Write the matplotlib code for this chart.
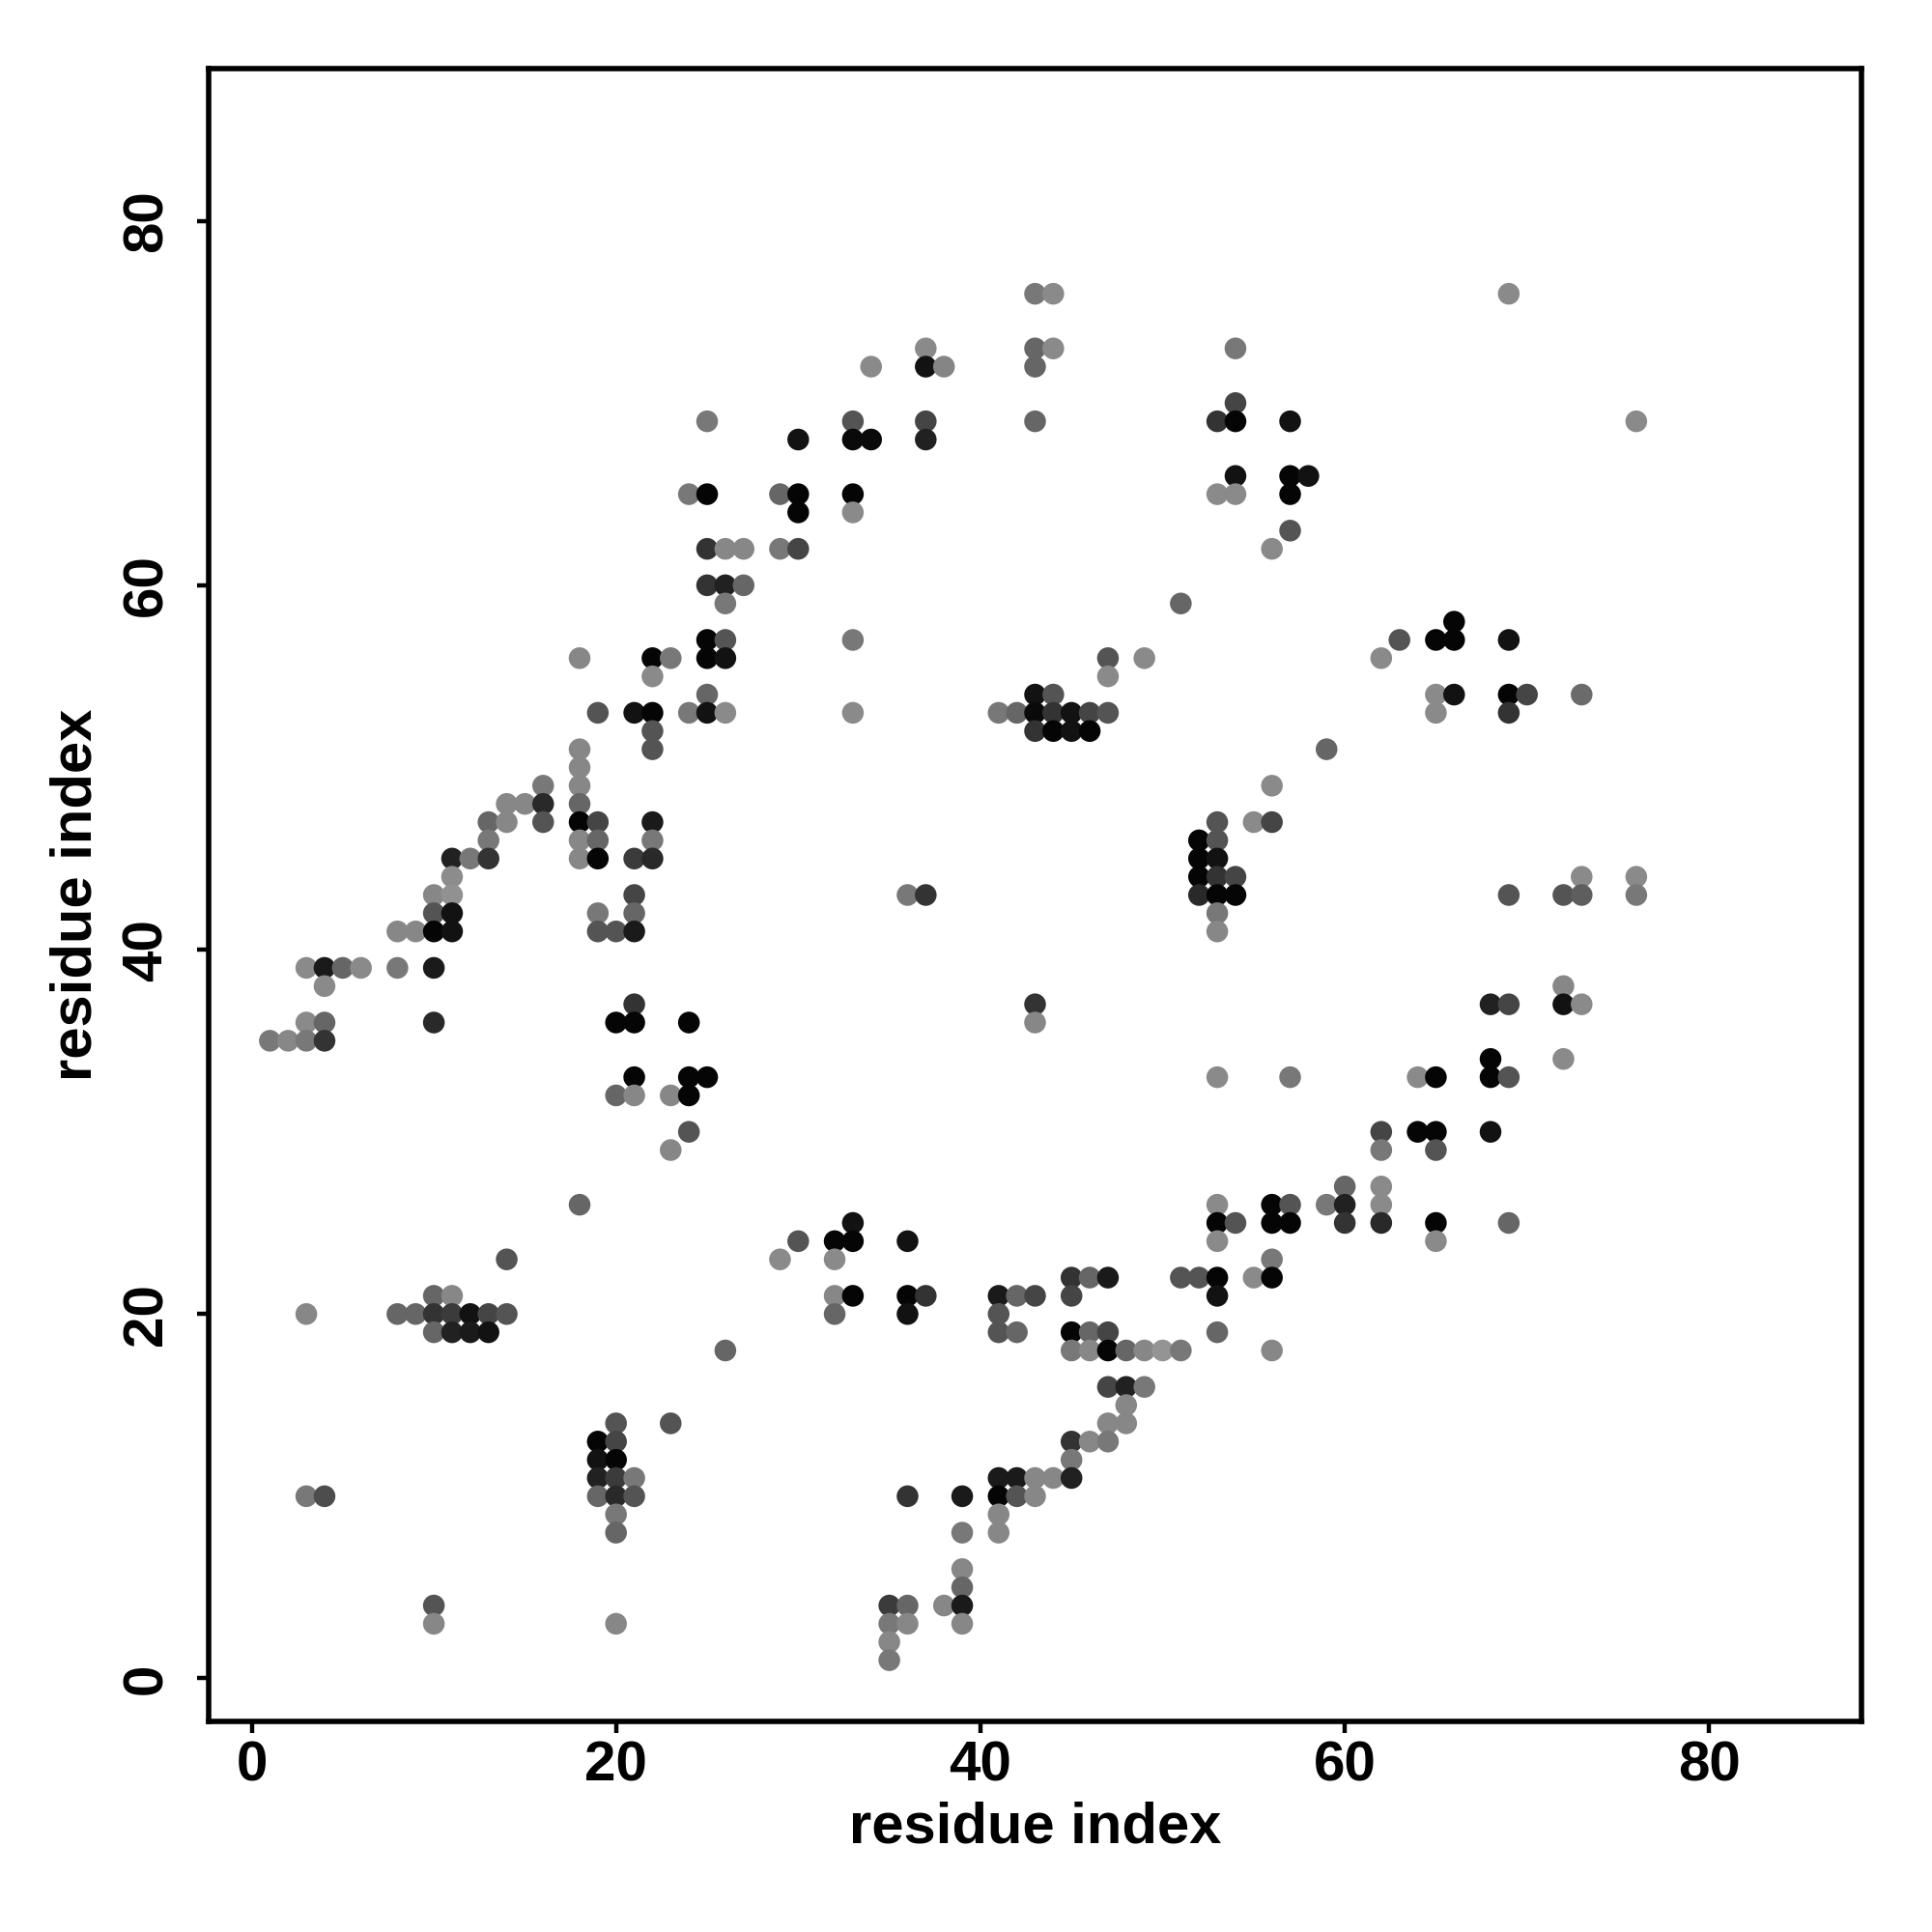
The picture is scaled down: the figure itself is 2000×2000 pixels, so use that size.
import matplotlib
matplotlib.use("Agg")
import matplotlib.pyplot as plt

plt.rcParams['font.family'] = ['Liberation Sans', 'DejaVu Sans']

# (residue i, residue j, grey shade 0=black .. 0.58=light grey)
contacts = [
    (43,76,0.47),(44,76,0.54),(69,76,0.54),
    (37,73,0.54),(43,73,0.40),(44,73,0.54),(54,73,0.47),
    (34,72,0.54),(37,72,0.07),(38,72,0.52),(43,72,0.40),
    (54,70,0.27),
    (25,69,0.47),(33,69,0.33),(37,69,0.27),(43,69,0.40),(53,69,0.20),(54,69,0.02),(57,69,0.07),(76,69,0.54),
    (30,68,0.07),(33,68,0.04),(34,68,0.04),(37,68,0.13),
    (54,66,0.07),(57,66,0.02),(58,66,0.07),
    (24,65,0.47),(25,65,0.02),(29,65,0.40),(30,65,0.02),(33,65,0.02),(53,65,0.54),(54,65,0.54),(57,65,0.02),
    (30,64,0.02),(33,64,0.54),
    (57,63,0.33),
    (25,62,0.20),(26,62,0.53),(27,62,0.53),(29,62,0.47),(30,62,0.27),(56,62,0.54),
    (25,60,0.20),(26,60,0.13),(27,60,0.40),
    (26,59,0.47),(51,59,0.40),
    (66,58,0.02),
    (25,57,0.02),(26,57,0.33),(33,57,0.47),(63,57,0.33),(65,57,0.02),(66,57,0.02),(69,57,0.07),
    (18,56,0.53),(22,56,0.02),(23,56,0.47),(25,56,0.02),(26,56,0.07),(47,56,0.33),(49,56,0.54),(62,56,0.54),
    (22,55,0.54),(47,55,0.54),
    (25,54,0.40),(43,54,0.07),(44,54,0.33),(65,54,0.54),(66,54,0.07),(69,54,0.02),(70,54,0.27),(73,54,0.42),
    (19,53,0.33),(21,53,0.07),(22,53,0.02),(24,53,0.47),(25,53,0.07),(26,53,0.54),(33,53,0.54),
    (41,53,0.47),(42,53,0.40),(43,53,0.04),(44,53,0.20),(45,53,0.07),(46,53,0.27),(47,53,0.33),
    (65,53,0.54),(69,53,0.20),
    (22,52,0.33),(43,52,0.20),(44,52,0.02),(45,52,0.07),(46,52,0.02),
    (18,51,0.53),(22,51,0.33),(59,51,0.40),
    (18,50,0.53),
    (16,49,0.47),(18,49,0.53),(56,49,0.54),
    (14,48,0.53),(15,48,0.53),(16,48,0.16),(18,48,0.40),
    (13,47,0.40),(14,47,0.53),(16,47,0.33),(18,47,0.02),(19,47,0.27),(22,47,0.10),(53,47,0.33),(55,47,0.54),(56,47,0.27),
    (13,46,0.47),(18,46,0.53),(19,46,0.40),(22,46,0.47),(52,46,0.02),(53,46,0.33),
    (11,45,0.13),(12,45,0.47),(13,45,0.20),(18,45,0.53),(19,45,0.02),(21,45,0.23),(22,45,0.16),(52,45,0.02),(53,45,0.07),
    (11,44,0.55),(52,44,0.02),(53,44,0.20),(54,44,0.27),(73,44,0.54),(76,44,0.54),
    (10,43,0.53),(11,43,0.57),(21,43,0.27),(36,43,0.47),(37,43,0.20),(52,43,0.16),(53,43,0.02),(54,43,0.02),
    (69,43,0.33),(72,43,0.33),(73,43,0.37),(76,43,0.47),
    (10,42,0.33),(11,42,0.07),(19,42,0.47),(21,42,0.40),(53,42,0.47),
    (8,41,0.53),(9,41,0.53),(10,41,0.02),(11,41,0.07),(19,41,0.33),(20,41,0.33),(21,41,0.10),(53,41,0.53),
    (3,39,0.54),(4,39,0.10),(5,39,0.40),(6,39,0.54),(8,39,0.47),(10,39,0.10),
    (4,38,0.54),(72,38,0.53),
    (21,37,0.20),(43,37,0.20),(68,37,0.13),(69,37,0.27),(72,37,0.07),(73,37,0.54),
    (3,36,0.54),(4,36,0.40),(10,36,0.16),(20,36,0.02),(21,36,0.02),(24,36,0.02),(43,36,0.53),
    (1,35,0.47),(2,35,0.53),(3,35,0.47),(4,35,0.20),
    (68,34,0.02),(72,34,0.54),
    (21,33,0.02),(24,33,0.02),(25,33,0.02),(53,33,0.54),(57,33,0.47),(64,33,0.54),(65,33,0.02),(68,33,0.02),(69,33,0.33),
    (20,32,0.40),(21,32,0.53),(23,32,0.53),(24,32,0.02),
    (24,30,0.33),(62,30,0.27),(64,30,0.02),(65,30,0.02),(68,30,0.07),
    (23,29,0.53),(62,29,0.47),(65,29,0.33),
    (60,27,0.40),(62,27,0.54),
    (18,26,0.40),(53,26,0.54),(56,26,0.02),(57,26,0.33),(59,26,0.47),(60,26,0.13),(62,26,0.54),
    (33,25,0.07),(53,25,0.02),(54,25,0.33),(56,25,0.02),(57,25,0.02),(60,25,0.20),(62,25,0.16),(65,25,0.02),(69,25,0.40),
    (30,24,0.33),(32,24,0.02),(33,24,0.02),(36,24,0.07),(53,24,0.54),(65,24,0.54),
    (14,23,0.33),(29,23,0.54),(32,23,0.54),(56,23,0.47),
    (45,22,0.20),(46,22,0.40),(47,22,0.10),(51,22,0.33),(52,22,0.33),(53,22,0.02),(55,22,0.54),(56,22,0.02),
    (10,21,0.40),(11,21,0.53),(32,21,0.53),(33,21,0.02),(36,21,0.02),(37,21,0.20),(41,21,0.10),(42,21,0.40),
    (43,21,0.27),(45,21,0.27),(53,21,0.07),
    (3,20,0.53),(8,20,0.40),(9,20,0.40),(10,20,0.20),(11,20,0.23),(12,20,0.07),(13,20,0.27),(14,20,0.33),
    (32,20,0.40),(36,20,0.07),(41,20,0.33),
    (10,19,0.40),(11,19,0.13),(12,19,0.10),(13,19,0.07),(41,19,0.33),(42,19,0.40),(45,19,0.02),(46,19,0.40),
    (47,19,0.27),(53,19,0.40),
    (26,18,0.40),(45,18,0.47),(46,18,0.53),(47,18,0.02),(48,18,0.40),(49,18,0.53),(50,18,0.58),(51,18,0.47),(56,18,0.53),
    (47,16,0.27),(48,16,0.13),(49,16,0.47),
    (48,15,0.53),
    (20,14,0.33),(23,14,0.33),(47,14,0.53),(48,14,0.53),
    (19,13,0.02),(20,13,0.27),(45,13,0.20),(46,13,0.53),(47,13,0.47),
    (19,12,0.07),(20,12,0.02),(45,12,0.47),
    (19,11,0.13),(20,11,0.23),(21,11,0.47),(41,11,0.10),(42,11,0.10),(43,11,0.53),(44,11,0.53),(45,11,0.13),
    (3,10,0.47),(4,10,0.30),(19,10,0.40),(20,10,0.16),(21,10,0.33),(36,10,0.20),(39,10,0.10),(41,10,0.02),
    (42,10,0.33),(43,10,0.53),
    (20,9,0.47),(41,9,0.53),
    (20,8,0.40),(39,8,0.47),(41,8,0.53),
    (39,6,0.53),
    (39,5,0.40),
    (10,4,0.33),(35,4,0.23),(36,4,0.40),(38,4,0.53),(39,4,0.10),
    (10,3,0.53),(20,3,0.53),(35,3,0.47),(36,3,0.53),(39,3,0.53),
    (35,2,0.53),
    (35,1,0.47),
]

res_i = [c[0] for c in contacts]
res_j = [c[1] for c in contacts]
shade = [c[2] for c in contacts]
ticks = [0, 20, 40, 60, 80]

fig = plt.figure(figsize=(10, 10), dpi=200)
ax = fig.add_axes([0.108, 0.109, 0.8555, 0.8555])

colors = [(s, s, s) for s in shade]
msize = (22.5 * 72 / 200) ** 2
ax.scatter(res_i, res_j, s=msize, c=colors, linewidths=0, zorder=3)

ax.set_xlim(-2.36, 88.36)
ax.set_ylim(-2.36, 88.36)
ax.set_xticks(ticks)
ax.set_yticks(ticks)
ax.set_xticklabels([str(t) for t in ticks], fontsize=21, fontweight='bold')
ax.set_yticklabels([str(t) for t in ticks], fontsize=21, fontweight='bold',
                   rotation=90, va='center')

for sp in ax.spines.values():
    sp.set_linewidth(2.0)
ax.tick_params(axis='both', direction='out', length=4.2, width=1.6, color='black')
ax.tick_params(axis='x', pad=3)
ax.tick_params(axis='y', pad=9)

ax.set_xlabel('residue index', fontsize=21.5, fontweight='bold', va='center', ha='center')
ax.set_ylabel('residue index', fontsize=21.5, fontweight='bold', va='center', ha='center')
ax.xaxis.set_label_coords(0.5, -0.0643)
ax.yaxis.set_label_coords(-0.080, 0.5)

fig.savefig('out.png', dpi=200, facecolor='white')
